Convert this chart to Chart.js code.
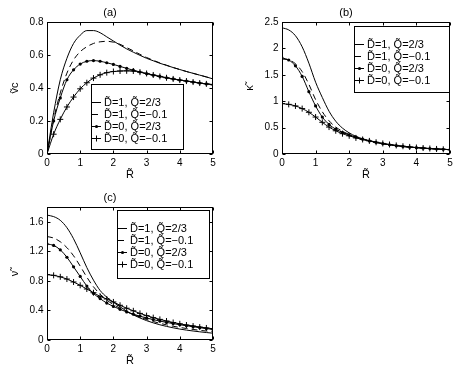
<!DOCTYPE html>
<html>
<head>
<meta charset="utf-8">
<script src="https://cdn.jsdelivr.net/npm/chart.js@4.4.1/dist/chart.umd.min.js"></script>
<style>
  html, body { margin: 0; padding: 0; background: #fff; }
  #wrap { position: relative; width: 457px; height: 368px; }
  canvas { position: absolute; left: 0; top: 0; }
</style>
</head>
<body>
<div id="wrap">
  <canvas id="chartA" width="457" height="368"></canvas>
  <canvas id="chartB" width="457" height="368"></canvas>
  <canvas id="chartC" width="457" height="368"></canvas>
</div>
<script>
// radius values (x axis), shared by all three panels
const rValues = [0, 0.2, 0.4, 0.6, 0.8, 1.0, 1.2, 1.4, 1.6, 1.8, 2.0, 2.2, 2.4, 2.6, 2.8,
  3.0, 3.2, 3.4, 3.6, 3.8, 4.0, 4.2, 4.4, 4.6, 4.8, 5.0];

const seriesLabels = ["D\u0303=1, Q\u0303=2/3", "D\u0303=1, Q\u0303=\u22120.1",
  "D\u0303=0, Q\u0303=2/3", "D\u0303=0, Q\u0303=\u22120.1"];

// (a) rotation velocity
const vcD1Q23 = [0, 0.25, 0.45, 0.58, 0.67, 0.72, 0.748, 0.748, 0.735, 0.71, 0.685, 0.66, 0.637,
  0.617, 0.598, 0.58, 0.565, 0.55, 0.537, 0.524, 0.512, 0.5, 0.489, 0.478, 0.467, 0.455];
const vcD1Qm01 = [0, 0.21, 0.37, 0.49, 0.57, 0.62, 0.65, 0.67, 0.68, 0.683, 0.678, 0.665, 0.645,
  0.625, 0.604, 0.585, 0.568, 0.552, 0.538, 0.524, 0.512, 0.5, 0.489, 0.478, 0.467, 0.455];
const vcD0Q23 = [0, 0.2, 0.34, 0.45, 0.51, 0.545, 0.562, 0.566, 0.562, 0.553, 0.543, 0.531, 0.519,
  0.508, 0.497, 0.487, 0.478, 0.47, 0.462, 0.455, 0.448, 0.442, 0.436, 0.43, 0.425, 0.42];
const vcD0Qm01 = [0, 0.12, 0.21, 0.285, 0.345, 0.395, 0.432, 0.46, 0.48, 0.493, 0.5, 0.503, 0.504,
  0.503, 0.496, 0.488, 0.479, 0.47, 0.462, 0.455, 0.448, 0.442, 0.436, 0.43, 0.425, 0.42];

// (b) kappa
const kD1Q23 = [2.39, 2.35, 2.24, 2.03, 1.72, 1.36, 1.07, 0.81, 0.62, 0.49, 0.4, 0.335, 0.288,
  0.25, 0.22, 0.195, 0.175, 0.158, 0.143, 0.13, 0.12, 0.11, 0.102, 0.095, 0.088, 0.082];
const kD1Qm01 = [1.8, 1.78, 1.71, 1.56, 1.32, 1.03, 0.8, 0.63, 0.51, 0.43, 0.37, 0.32, 0.28,
  0.248, 0.22, 0.195, 0.175, 0.158, 0.143, 0.13, 0.12, 0.11, 0.102, 0.095, 0.088, 0.082];
const kD0Q23 = [1.82, 1.78, 1.67, 1.47, 1.18, 0.91, 0.7, 0.56, 0.47, 0.41, 0.36, 0.32, 0.28,
  0.248, 0.22, 0.195, 0.175, 0.158, 0.143, 0.13, 0.12, 0.11, 0.102, 0.095, 0.088, 0.082];
const kD0Qm01 = [0.955, 0.94, 0.91, 0.86, 0.79, 0.7, 0.6, 0.51, 0.44, 0.385, 0.345, 0.305, 0.275,
  0.248, 0.222, 0.2, 0.18, 0.162, 0.147, 0.134, 0.123, 0.113, 0.104, 0.096, 0.089, 0.083];

// (c) nu
const nuD1Q23 = [1.69, 1.67, 1.62, 1.52, 1.37, 1.18, 0.98, 0.81, 0.67, 0.58, 0.51, 0.45, 0.39,
  0.34, 0.298, 0.262, 0.232, 0.206, 0.184, 0.165, 0.148, 0.134, 0.122, 0.111, 0.101, 0.092];
const nuD1Qm01 = [1.4, 1.38, 1.33, 1.25, 1.14, 1.0, 0.85, 0.72, 0.62, 0.54, 0.48, 0.43, 0.385,
  0.345, 0.31, 0.278, 0.25, 0.226, 0.205, 0.186, 0.17, 0.156, 0.143, 0.131, 0.121, 0.111];
const nuD0Q23 = [1.3, 1.28, 1.22, 1.12, 0.99, 0.86, 0.73, 0.63, 0.56, 0.5, 0.455, 0.415, 0.38,
  0.35, 0.322, 0.298, 0.276, 0.256, 0.238, 0.222, 0.207, 0.193, 0.18, 0.167, 0.155, 0.143];
const nuD0Qm01 = [0.885, 0.875, 0.855, 0.825, 0.785, 0.74, 0.69, 0.64, 0.59, 0.555, 0.515, 0.47,
  0.43, 0.395, 0.36, 0.33, 0.303, 0.279, 0.257, 0.237, 0.219, 0.203, 0.189, 0.175, 0.163, 0.152];

Chart.defaults.font.family = '"Liberation Sans", Arial, sans-serif';
Chart.defaults.color = '#000';

const W = 457, H = 368;

// box, inner tick marks and a matlab style legend inside the axes
const framePlugin = {
  id: 'frame',
  afterDraw(chart, args, opts) {
    const ctx = chart.ctx;
    const a = chart.chartArea;
    const xs = chart.scales.x, ys = chart.scales.y;
    ctx.save();
    ctx.strokeStyle = '#000';
    ctx.lineWidth = 1;
    ctx.setLineDash([]);
    const L = Math.round(a.left) + 0.5, R = Math.round(a.right) - 0.5;
    const T = Math.round(a.top) + 0.5, B = Math.round(a.bottom) - 0.5;
    ctx.beginPath();
    xs.ticks.forEach(function (t) {
      const px = Math.round(xs.getPixelForValue(t.value)) + 0.5;
      ctx.moveTo(px, B); ctx.lineTo(px, B - 3);
      ctx.moveTo(px, T); ctx.lineTo(px, T + 3);
    });
    ys.ticks.forEach(function (t) {
      const py = Math.round(ys.getPixelForValue(t.value)) + 0.5;
      ctx.moveTo(L, py); ctx.lineTo(L + 3, py);
      ctx.moveTo(R, py); ctx.lineTo(R - 3, py);
    });
    ctx.stroke();
    ctx.strokeRect(L, T, R - L, B - T);

    const lg = opts.legend;
    if (lg) {
      ctx.fillStyle = '#fff';
      ctx.fillRect(lg.x, lg.y, lg.w, lg.h);
      ctx.strokeRect(lg.x + 0.5, lg.y + 0.5, lg.w, lg.h);
      ctx.font = '11px "Liberation Sans", Arial, sans-serif';
      ctx.textBaseline = 'middle';
      chart.data.datasets.forEach(function (ds, i) {
        const yy = Math.round(lg.y + lg.first + i * lg.step) + 0.5;
        ctx.strokeStyle = '#000';
        ctx.setLineDash(ds.borderDash || []);
        ctx.beginPath();
        ctx.moveTo(lg.x + 1, yy); ctx.lineTo(lg.x + 10, yy);
        ctx.stroke();
        ctx.setLineDash([]);
        const cx = lg.x + 5.5;
        if (ds.pointStyle === 'circle') {
          ctx.fillStyle = '#000';
          ctx.beginPath(); ctx.arc(cx, yy, 1.6, 0, Math.PI * 2); ctx.fill();
        } else if (ds.pointStyle === 'cross') {
          ctx.beginPath();
          ctx.moveTo(cx - 3, yy); ctx.lineTo(cx + 3, yy);
          ctx.moveTo(cx, yy - 3); ctx.lineTo(cx, yy + 3);
          ctx.stroke();
        }
        ctx.fillStyle = '#000';
        ctx.fillText(ds.label, lg.x + 13, yy);
      });
    }
    ctx.restore();
  }
};

function toPoints(ys) {
  return rValues.map(function (r, i) { return { x: r, y: ys[i] }; });
}

function makeDatasets(s1, s2, s3, s4) {
  const base = { borderColor: '#000', backgroundColor: '#000', borderWidth: 1,
    cubicInterpolationMode: 'monotone', pointHoverRadius: 0 };
  return [
    Object.assign({}, base, { label: seriesLabels[0], data: toPoints(s1), pointRadius: 0 }),
    Object.assign({}, base, { label: seriesLabels[1], data: toPoints(s2), pointRadius: 0, borderDash: [6, 4] }),
    Object.assign({}, base, { label: seriesLabels[2], data: toPoints(s3), pointStyle: 'circle', pointRadius: 1.6, pointBorderWidth: 0 }),
    Object.assign({}, base, { label: seriesLabels[3], data: toPoints(s4), pointStyle: 'cross', pointRadius: 3, pointBorderWidth: 1 })
  ];
}

// plain numbers like matlab: 2 instead of 2.0
function plainTick(value) {
  return String(parseFloat(Number(value).toFixed(3)));
}

function makePanel(id, title, yTitle, yMax, yStep, datasets, area, legend) {
  new Chart(document.getElementById(id).getContext('2d'), {
    type: 'line',
    data: { datasets: datasets },
    plugins: [framePlugin],
    options: {
      responsive: false,
      animation: false,
      devicePixelRatio: 1,
      events: [],
      layout: { padding: { left: area.l - 40, right: W - area.r, top: area.t - 15.6, bottom: H - area.b - 30 } },
      plugins: {
        legend: { display: false },
        tooltip: { enabled: false },
        title: { display: true, text: title, font: { size: 11, weight: 'normal' }, padding: { top: 0, bottom: 2.4 } },
        frame: { legend: legend }
      },
      scales: {
        x: {
          type: 'linear', min: 0, max: 5,
          grid: { display: false, drawTicks: false },
          border: { display: false },
          ticks: { stepSize: 1, padding: 3, font: { size: 10 }, maxRotation: 0, callback: plainTick },
          title: { display: true, text: 'R\u0303', font: { size: 11 }, padding: { top: 0, bottom: 2.4 } },
          afterFit: function (s) { s.height = 30; }
        },
        y: {
          type: 'linear', min: 0, max: yMax,
          grid: { display: false, drawTicks: false },
          border: { display: false },
          ticks: { stepSize: yStep, padding: 3.5, font: { size: 10 }, includeBounds: false, callback: plainTick },
          title: { display: true, text: yTitle, font: { size: 11 }, padding: { top: 1.4, bottom: 0 } },
          afterFit: function (s) { s.width = 40; }
        }
      }
    }
  });
}

makePanel('chartA', '(a)', '\u1E7Dc', 0.8, 0.2,
  makeDatasets(vcD1Q23, vcD1Qm01, vcD0Q23, vcD0Qm01),
  { l: 47, t: 22, r: 213, b: 154 },
  { x: 91, y: 84, w: 92, h: 65, first: 17.5, step: 12 });

makePanel('chartB', '(b)', '\u03BA\u0303', 2.5, 0.5,
  makeDatasets(kD1Q23, kD1Qm01, kD0Q23, kD0Qm01),
  { l: 282, t: 22, r: 450, b: 154 },
  { x: 354, y: 26, w: 95, h: 66, first: 17.5, step: 12 });

makePanel('chartC', '(c)', '\u03BD\u0303', 1.8, 0.4,
  makeDatasets(nuD1Q23, nuD1Qm01, nuD0Q23, nuD0Qm01),
  { l: 47, t: 207, r: 213, b: 340 },
  { x: 117, y: 210, w: 92, h: 68, first: 17.5, step: 12 });
</script>
</body>
</html>
